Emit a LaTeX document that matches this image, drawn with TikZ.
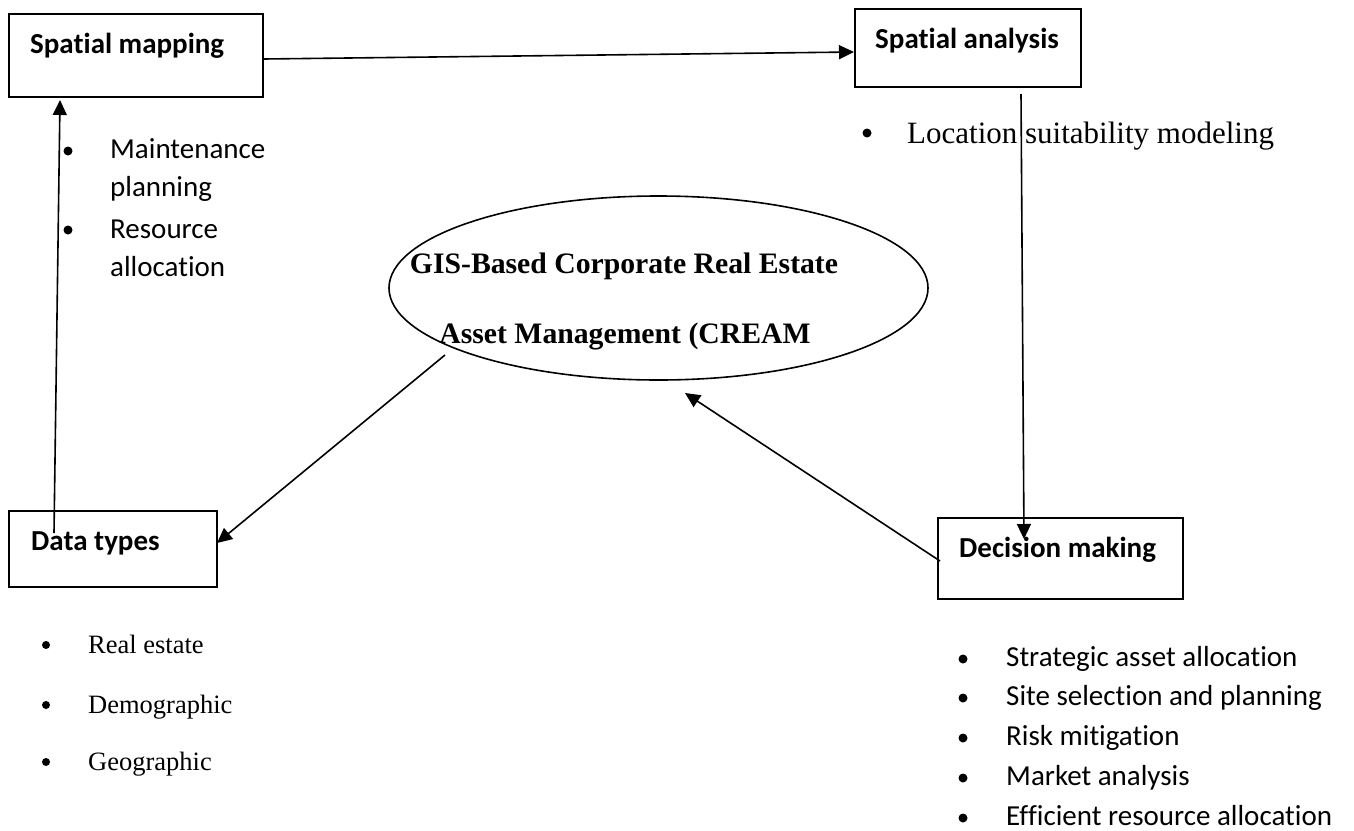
\documentclass[tikz,border=0pt]{standalone}
\usepackage{fontspec}
\setmainfont{Liberation Serif}
\newfontfamily\calfont[Ligatures={NoCommon}]{Carlito}
\usetikzlibrary{arrows.meta,shapes.geometric}
\begin{document}
\begin{tikzpicture}[x=1pt,y=-1pt,
  box/.style={draw, line width=2pt, inner sep=0pt},
  arr/.style={line width=1.6pt, -{Triangle[length=15pt,width=14pt]}},
  title/.style={anchor=base west, inner sep=0pt, font=\calfont\bfseries\fontsize{29}{35}\selectfont},
  cal/.style={anchor=base west, inner sep=0pt, font=\calfont\fontsize{29}{35}\selectfont},
  tms/.style={anchor=base west, inner sep=0pt, font=\fontsize{26.5}{32}\selectfont},
  tmsbig/.style={anchor=base west, inner sep=0pt, font=\fontsize{31}{37}\selectfont},
  head/.style={anchor=base, inner sep=0pt, font=\bfseries\fontsize{29.7}{36}\selectfont},
  dot/.style={fill=black}
]
\useasboundingbox (0,0) rectangle (1354,830);
\fill[white] (0,0) rectangle (1354,830);

% boxes
\node[box, minimum width=254pt, minimum height=83pt] (sm) at (136,55.5) {};
\node[title] (smt) at (30,53) {Spatial mapping};
\node[box, minimum width=226pt, minimum height=78pt] (sa) at (968,48) {};
\node[title] (sat) at (875,48) {Spatial analysis};
\node[box, minimum width=208pt, minimum height=76pt] (dt) at (113,549) {};
\node[title] (dtt) at (31,550) {Data types};
\node[box, minimum width=245pt, minimum height=81pt] (dm) at (1060.5,558.5) {};
\node[title] (dmt) at (959,557) {Decision making};

% central ellipse
\node[draw, ellipse, line width=1.6pt, inner sep=0pt, minimum width=539pt, minimum height=184pt] (cream) at (658.5,288) {};
\node[head] (h1) at (624,273) {GIS-Based Corporate Real Estate};
\node[head] (h2) at (625,343) {Asset Management (CREAM};

% lists
\fill[dot] (68,151) circle (4.5pt);
\node[cal] (m1) at (110,158) {Maintenance};
\node[cal] (m2) at (110,196) {planning};
\fill[dot] (68,230) circle (4.5pt);
\node[cal] (m3) at (110,238) {Resource};
\node[cal] (m4) at (110,276) {allocation};

\fill[dot] (867,133) circle (4.5pt);
\node[tmsbig] (l1) at (907,143) {Location suitability modeling};

\fill[dot] (46,645) circle (4pt);
\node[tms] (d1) at (88,653) {Real estate};
\fill[dot] (46,705) circle (4pt);
\node[tms] (d2) at (88,713) {Demographic};
\fill[dot] (46,762) circle (4pt);
\node[tms] (d3) at (88,770) {Geographic};

\fill[dot] (963,659) circle (4.5pt);
\node[cal] (k1) at (1006,666) {Strategic asset allocation};
\fill[dot] (963,698) circle (4.5pt);
\node[cal] (k2) at (1006,705) {Site selection and planning};
\fill[dot] (963,738) circle (4.5pt);
\node[cal] (k3) at (1006,745) {Risk mitigation};
\fill[dot] (963,778) circle (4.5pt);
\node[cal] (k4) at (1006,785) {Market analysis};
\fill[dot] (963,818) circle (4.5pt);
\node[cal] (k5) at (1006,825) {Efficient resource allocation};

% connector ends
\coordinate (saout) at (1021,94);
\coordinate (dmin) at (1024,539);
\coordinate (dmout) at (940,561);
\coordinate (crin) at (685,393);
\coordinate (crout) at (445,355);
\coordinate (dtin) at (217,543);
\coordinate (dtout) at (54,533);
\coordinate (smin) at (60,100);

% connectors
\draw[arr] ([yshift=-3.5pt]sm.east) -- ([yshift=-4pt]sa.west);
\draw[arr] (saout) -- (dmin);
\draw[arr] (dmout) -- (crin);
\draw[arr] (crout) -- (dtin);
\draw[arr] (dtout) -- (smin);
\end{tikzpicture}
\end{document}
